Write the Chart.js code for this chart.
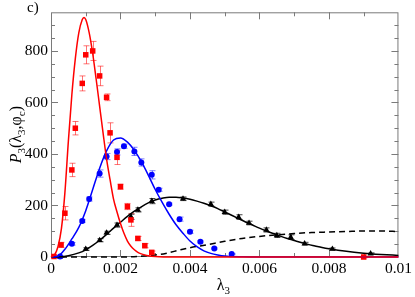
<!DOCTYPE html>
<html>
<head>
<meta charset="utf-8">
<script src="https://cdn.jsdelivr.net/npm/chart.js@4.4.0/dist/chart.umd.min.js"></script>
<style>
  html, body { margin: 0; padding: 0; background: #fff; }
</style>
</head>
<body>
<canvas id="c" width="415" height="297"></canvas>
<script>
// axis ticks
const xTicks = [0, 0.002, 0.004, 0.006, 0.008, 0.01];
const yTicks = [0, 200, 400, 600, 800];

// red squares (simulation) + fit
const redX = [0.000086, 0.00029, 0.0004, 0.0006, 0.0007, 0.0009, 0.001, 0.0012, 0.0014, 0.0016, 0.0017, 0.0019, 0.002, 0.0022, 0.0023, 0.0025, 0.0027, 0.0029, 0.009];
const redY = [2, 47, 170, 338, 500, 674, 785, 800, 703, 620, 482, 387, 273, 196, 144, 72, 44, 18, 0];
const redErr = [3, 10, 26, 26, 26, 29, 35, 37, 38, 13, 39, 28, 10, 12, 25, 8, 8, 5, 3];
const redFitX = [0, 0.0001, 0.0002, 0.0003, 0.0004, 0.0005, 0.0006, 0.0007, 0.0008, 0.0009, 0.00095, 0.001, 0.0011, 0.0012, 0.0013, 0.0014, 0.0015, 0.0016, 0.0017, 0.0018, 0.0019, 0.002, 0.0021, 0.0022, 0.0023, 0.0024, 0.0025, 0.0026, 0.0027, 0.0028, 0.003, 0.0035, 0.01];
const redFitY = [0, 8, 40, 110, 250, 450, 630, 770, 870, 922, 930, 922, 870, 790, 690, 585, 480, 380, 300, 225, 175, 130, 92, 62, 42, 28, 18, 12, 8, 5, 2, 0, 0];

// blue circles + fit
const blueX = [0.00026, 0.0006, 0.0009, 0.0011, 0.0014, 0.0016, 0.0019, 0.0021, 0.0024, 0.0026, 0.0029, 0.0031, 0.0034, 0.0037, 0.004, 0.0043, 0.0047, 0.0052];
const blueY = [2, 51, 140, 225, 324, 390, 408, 430, 410, 367, 319, 261, 205, 147, 98, 59, 33, 12];
const blueErr = [2, 5, 6, 8, 14, 12, 12, 8, 16, 14, 16, 6, 4, 8, 6, 4, 3, 2];
const blueFitX = [0, 0.0002, 0.0004, 0.0006, 0.0008, 0.001, 0.0012, 0.0014, 0.0016, 0.0018, 0.002, 0.0022, 0.0024, 0.0026, 0.0028, 0.003, 0.0032, 0.0034, 0.0036, 0.0038, 0.004, 0.0042, 0.0044, 0.0046, 0.0048, 0.005, 0.0055, 0.006, 0.01];
const blueFitY = [0, 3, 30, 70, 115, 180, 262, 345, 412, 454, 462, 446, 414, 370, 318, 262, 212, 166, 125, 92, 62, 40, 24, 14, 8, 4, 1, 0, 0];

// black triangles + fit
const blackX = [0.00026, 0.001, 0.0014, 0.0016, 0.0019, 0.0023, 0.0025, 0.0029, 0.0038, 0.0046, 0.005, 0.0054, 0.0057, 0.0062, 0.0065, 0.0069, 0.0073, 0.0081, 0.0092];
const blackY = [1, 31, 65, 94, 124, 156, 183, 217, 226, 205, 174, 155, 132, 105, 84, 77, 52, 31, 13];
const blackErr = [2, 5, 6, 6, 8, 10, 8, 10, 7, 8, 8, 9, 7, 8, 8, 9, 5, 4, 3];
const blackFitX = [0, 0.0002, 0.0005, 0.0008, 0.001, 0.0012, 0.0014, 0.0016, 0.0018, 0.002, 0.0022, 0.0024, 0.0026, 0.0028, 0.003, 0.0032, 0.0034, 0.0036, 0.0038, 0.004, 0.0042, 0.0044, 0.0046, 0.0048, 0.005, 0.0052, 0.0054, 0.0056, 0.0058, 0.006, 0.0062, 0.0064, 0.0066, 0.0068, 0.007, 0.0072, 0.0074, 0.0076, 0.0078, 0.008, 0.0085, 0.009, 0.0095, 0.01];
const blackFitY = [0, 0, 5, 16, 28, 45, 65, 88, 112, 135, 158, 178, 195, 210, 221, 228, 232, 232, 229, 224, 217, 209, 199, 188, 175, 162, 149, 136, 124, 112, 101, 91, 81, 72, 64, 56, 49, 43, 37, 32, 22, 15, 10, 6];

// dashed curve
const dashX = [0, 0.002, 0.0025, 0.003, 0.0033, 0.0037, 0.004, 0.0045, 0.005, 0.0055, 0.006, 0.0065, 0.007, 0.0075, 0.008, 0.0085, 0.009, 0.0095, 0.01];
const dashY = [0, 0, 2, 8, 14, 27, 36, 48, 61, 72, 80, 86, 91, 95, 97, 99, 101, 101, 99];

const pts = (xs, ys) => xs.map((x, i) => ({ x: x, y: ys[i] }));

const SERIF = '"Liberation Serif", "DejaVu Serif", serif';

function curve(xs, ys, color, dash) {
    return {
        data: pts(xs, ys),
        showLine: true,
        borderColor: color,
        borderWidth: 1.5,
        borderDash: dash || [],
        pointRadius: 0,
        cubicInterpolationMode: 'monotone',
        clip: false
    };
}

function marks(xs, ys, color, style, r) {
    return {
        data: pts(xs, ys),
        showLine: false,
        backgroundColor: color,
        borderColor: color,
        borderWidth: 0,
        pointStyle: style,
        pointRadius: r,
        clip: false
    };
}

// error bars for the marker datasets
const errs = { 3: [redErr, 'rgba(255,0,0,0.55)'], 4: [blueErr, 'rgba(0,0,255,0.5)'], 5: [blackErr, 'rgba(0,0,0,0.75)'] };

const errorBars = {
    id: 'errorBars',
    beforeDatasetsDraw(chart) {
        const { ctx, scales: { x, y } } = chart;
        ctx.save();
        ctx.lineWidth = 1;
        Object.keys(errs).forEach(k => {
            const [e, color] = errs[k];
            ctx.strokeStyle = color;
            chart.data.datasets[k].data.forEach((p, i) => {
                const px = Math.round(x.getPixelForValue(p.x)) + 0.5;
                const y1 = y.getPixelForValue(p.y + e[i]);
                const y2 = y.getPixelForValue(p.y - e[i]);
                ctx.beginPath();
                ctx.moveTo(px, y1); ctx.lineTo(px, y2);
                ctx.moveTo(px - 3, y1); ctx.lineTo(px + 3, y1);
                ctx.moveTo(px - 3, y2); ctx.lineTo(px + 3, y2);
                ctx.stroke();
            });
        });
        ctx.restore();
    }
};

// box with inward major/minor ticks on all four sides
const frame = {
    id: 'frame',
    beforeDatasetsDraw(chart) {
        const { ctx, chartArea: a, scales: { x, y } } = chart;
        ctx.save();
        ctx.strokeStyle = '#7a7a7a';
        ctx.lineWidth = 1;
        ctx.strokeRect(a.left + 0.5, a.top + 0.5, a.right - a.left - 1, a.bottom - a.top - 1);
        ctx.beginPath();
        for (let i = 1; i < 10; i++) {
            const px = Math.round(x.getPixelForValue(i * 0.001)) + 0.5;
            const len = i % 2 === 0 ? 7 : 4;
            ctx.moveTo(px, a.bottom); ctx.lineTo(px, a.bottom - len);
            ctx.moveTo(px, a.top); ctx.lineTo(px, a.top + len);
        }
        for (let v = 50; v < 950; v += 50) {
            const py = Math.round(y.getPixelForValue(v)) + 0.5;
            const len = v % 200 === 0 ? 7 : 4;
            ctx.moveTo(a.left, py); ctx.lineTo(a.left + len, py);
            ctx.moveTo(a.right, py); ctx.lineTo(a.right - len, py);
        }
        ctx.stroke();
        ctx.restore();
    }
};

// axis titles with subscripts, and panel label
function runs(ctx, parts, x, y) {
    parts.forEach(([txt, font, dy]) => {
        ctx.font = font;
        ctx.fillText(txt, x, y + dy);
        x += ctx.measureText(txt).width;
    });
    return x;
}

const titles = {
    id: 'titles',
    afterDraw(chart) {
        const { ctx, chartArea: a } = chart;
        const big = '16px ' + SERIF, bigI = 'italic 16px ' + SERIF, sub = '11px ' + SERIF;
        ctx.save();
        ctx.fillStyle = '#000';
        ctx.textBaseline = 'alphabetic';
        ctx.textAlign = 'left';

        // y title
        const yParts = [['P', bigI, 0], ['3', sub, 4], ['(λ', big, 0], ['3', sub, 4], [',φ', big, 0], ['c', sub, 4], [')', big, 0]];
        ctx.translate(21, (a.top + a.bottom) / 2);
        ctx.rotate(-Math.PI / 2);
        let w = 0;
        yParts.forEach(([t, f]) => { ctx.font = f; w += ctx.measureText(t).width; });
        runs(ctx, yParts, -w / 2, 0);
        ctx.setTransform(1, 0, 0, 1, 0, 0);

        // x title
        const xParts = [['λ', big, 0], ['3', sub, 4]];
        runs(ctx, xParts, (a.left + a.right) / 2 - 8, 290);

        // panel label
        ctx.font = '15px ' + SERIF;
        ctx.fillText('c)', 27, 12);
        ctx.restore();
    }
};

new Chart(document.getElementById('c'), {
    type: 'scatter',
    data: {
        datasets: [
            curve(redFitX, redFitY, '#ff0000'),
            curve(blueFitX, blueFitY, '#0000ff'),
            curve(blackFitX, blackFitY, '#000000'),
            marks(redX, redY, '#ff0000', 'rect', 3.9),
            marks(blueX, blueY, '#0000ff', 'circle', 3),
            marks(blackX, blackY, '#000000', 'triangle', 3.6),
            curve(dashX, dashY, '#000000', [6, 4])
        ]
    },
    options: {
        responsive: false,
        animation: false,
        devicePixelRatio: 1,
        layout: { padding: { top: 12, right: 14, left: 0, bottom: 0 } },
        plugins: { legend: { display: false }, tooltip: { enabled: false } },
        scales: {
            x: {
                type: 'linear',
                min: 0,
                max: 0.01,
                afterFit: s => { s.height = 40; },
                afterBuildTicks: s => { s.ticks = xTicks.map(v => ({ value: v })); },
                grid: { display: false, drawTicks: false },
                border: { display: false },
                ticks: {
                    padding: 3,
                    maxRotation: 0,
                    color: '#000',
                    font: { family: SERIF, size: 15.5 },
                    callback: v => String(Number(v.toFixed(4)))
                }
            },
            y: {
                min: 0,
                max: 950,
                afterFit: s => { s.width = 51; },
                afterBuildTicks: s => { s.ticks = yTicks.map(v => ({ value: v })); },
                grid: { display: false, drawTicks: false },
                border: { display: false },
                ticks: {
                    padding: 3,
                    color: '#000',
                    font: { family: SERIF, size: 15.5 }
                }
            }
        }
    },
    plugins: [frame, errorBars, titles]
});
</script>
</body>
</html>
